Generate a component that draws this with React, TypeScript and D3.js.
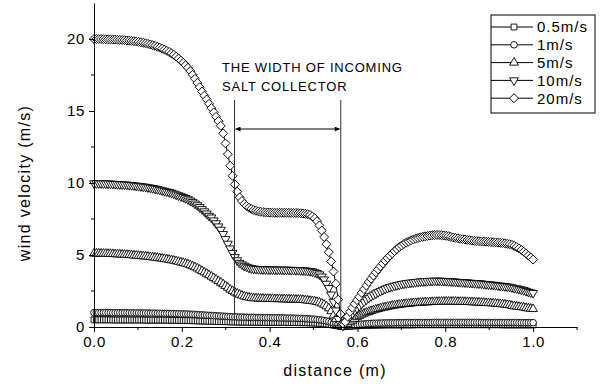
import React, { useRef, useEffect } from 'react';
import * as d3 from 'd3';

// wind velocity (m/s); the points are evenly spaced
// in distance from 0 to 1 m (188 points per series)
const speed05 = [
  0.5, 0.5, 0.5, 0.5, 0.5, 0.5, 0.5, 0.5, 0.49, 0.49,
  0.49, 0.49, 0.49, 0.49, 0.49, 0.49, 0.49, 0.49, 0.49, 0.49,
  0.49, 0.49, 0.48, 0.48, 0.48, 0.48, 0.48, 0.48, 0.48, 0.48,
  0.48, 0.48, 0.47, 0.47, 0.47, 0.46, 0.46, 0.46, 0.45, 0.45,
  0.45, 0.44, 0.44, 0.43, 0.43, 0.42, 0.42, 0.41, 0.41, 0.4,
  0.4, 0.39, 0.39, 0.38, 0.38, 0.37, 0.37, 0.36, 0.36, 0.35,
  0.35, 0.35, 0.34, 0.34, 0.34, 0.34, 0.33, 0.33, 0.33, 0.33,
  0.33, 0.33, 0.32, 0.32, 0.32, 0.32, 0.32, 0.32, 0.32, 0.32,
  0.32, 0.32, 0.32, 0.31, 0.31, 0.31, 0.31, 0.31, 0.3, 0.3,
  0.3, 0.29, 0.29, 0.28, 0.28, 0.27, 0.26, 0.25, 0.23, 0.21,
  0.19, 0.16, 0.13, 0.1, 0.07, 0.04, 0.02,
  0.03, 0.04, 0.05,
  0.07, 0.08, 0.09, 0.1, 0.1, 0.11, 0.12, 0.12,
  0.13, 0.13, 0.13, 0.14, 0.14, 0.14, 0.15, 0.15, 0.15,
  0.15, 0.15, 0.15, 0.15, 0.15, 0.15, 0.15, 0.15,
  0.15, 0.15, 0.16, 0.16, 0.16, 0.16, 0.16, 0.16, 0.16,
  0.16, 0.16, 0.16, 0.16, 0.16, 0.16, 0.16, 0.16, 0.16,
  0.16, 0.16, 0.16, 0.16, 0.16, 0.16, 0.16, 0.16,
  0.16, 0.16, 0.16, 0.16, 0.16, 0.16, 0.16, 0.16, 0.16,
  0.16, 0.16, 0.16, 0.16, 0.15, 0.15, 0.15, 0.15,
  0.15, 0.15, 0.15, 0.15, 0.15, 0.15, 0.15, 0.15, 0.15,
  0.15
];

const speed1 = [
  1.0, 1.0, 1.0, 1.0, 1.0, 1.0, 1.0, 1.0, 0.99, 0.99,
  0.99, 0.99, 0.99, 0.99, 0.99, 0.98, 0.98, 0.98, 0.98, 0.98,
  0.97, 0.97, 0.97, 0.97, 0.96, 0.96, 0.96, 0.95, 0.95, 0.95,
  0.94, 0.94, 0.94, 0.93, 0.93, 0.92, 0.92, 0.91, 0.91, 0.9,
  0.9, 0.89, 0.88, 0.87, 0.86, 0.85, 0.84, 0.83, 0.82, 0.81,
  0.8, 0.79, 0.78, 0.77, 0.76, 0.75, 0.74, 0.73, 0.72, 0.71,
  0.7, 0.7, 0.69, 0.69, 0.68, 0.68, 0.67, 0.67, 0.67, 0.66,
  0.66, 0.66, 0.65, 0.65, 0.65, 0.65, 0.64, 0.64, 0.64, 0.63,
  0.63, 0.63, 0.62, 0.62, 0.62, 0.61, 0.61, 0.6, 0.6, 0.59,
  0.58, 0.57, 0.56, 0.55, 0.54, 0.52, 0.5, 0.48, 0.45, 0.42,
  0.38, 0.33, 0.27, 0.21, 0.15, 0.08, 0.03,
  0.05, 0.07, 0.09,
  0.13, 0.15, 0.16, 0.18, 0.2, 0.21, 0.23, 0.24,
  0.25, 0.26, 0.26, 0.27, 0.27, 0.28, 0.28, 0.29, 0.29,
  0.29, 0.29, 0.3, 0.3, 0.3, 0.3, 0.31, 0.31,
  0.31, 0.31, 0.31, 0.31, 0.31, 0.31, 0.31, 0.31, 0.31,
  0.31, 0.32, 0.32, 0.32, 0.32, 0.32, 0.32, 0.32, 0.32,
  0.32, 0.32, 0.32, 0.32, 0.32, 0.32, 0.32, 0.32,
  0.32, 0.32, 0.32, 0.32, 0.31, 0.31, 0.31, 0.31, 0.31,
  0.31, 0.31, 0.31, 0.31, 0.31, 0.31, 0.31, 0.31,
  0.31, 0.31, 0.31, 0.3, 0.3, 0.3, 0.3, 0.3, 0.3,
  0.3
];

const speed5 = [
  5.1, 5.1, 5.1, 5.1, 5.09, 5.09, 5.08, 5.08, 5.07, 5.06,
  5.05, 5.04, 5.03, 5.02, 5.01, 5.0, 4.99, 4.97, 4.96, 4.94,
  4.93, 4.91, 4.9, 4.88, 4.86, 4.84, 4.82, 4.8, 4.77, 4.75,
  4.73, 4.7, 4.67, 4.64, 4.61, 4.57, 4.53, 4.49, 4.45, 4.4,
  4.35, 4.29, 4.22, 4.15, 4.07, 3.98, 3.89, 3.8, 3.7, 3.6,
  3.5, 3.4, 3.3, 3.19, 3.08, 2.97, 2.85, 2.73, 2.6, 2.5,
  2.4, 2.32, 2.25, 2.18, 2.12, 2.08, 2.05, 2.02, 2.0, 1.99,
  1.98, 1.97, 1.97, 1.96, 1.96, 1.95, 1.95, 1.94, 1.94, 1.94,
  1.93, 1.93, 1.92, 1.92, 1.91, 1.91, 1.9, 1.9, 1.89, 1.88,
  1.86, 1.84, 1.82, 1.8, 1.78, 1.74, 1.7, 1.63, 1.55, 1.44,
  1.3, 1.1, 0.8, 0.55, 0.3, 0.1, 0.05,
  0.12, 0.22, 0.34, 0.46, 0.57, 0.69, 0.78, 0.86, 0.93, 1.0,
  1.05, 1.11, 1.16, 1.21, 1.25, 1.3, 1.34, 1.37, 1.41, 1.44,
  1.48, 1.5, 1.52, 1.55, 1.57, 1.59, 1.61, 1.62, 1.64, 1.66,
  1.67, 1.68, 1.69, 1.7, 1.72, 1.72, 1.73, 1.74, 1.74, 1.75,
  1.75, 1.76, 1.76, 1.76, 1.76, 1.76, 1.76, 1.76, 1.75, 1.75,
  1.75, 1.74, 1.74, 1.73, 1.72, 1.72, 1.71, 1.7, 1.69, 1.68,
  1.67, 1.66, 1.65, 1.64, 1.63, 1.61, 1.59, 1.58, 1.56, 1.54,
  1.52, 1.47, 1.44, 1.42, 1.4, 1.38, 1.36, 1.32, 1.29, 1.27,
  1.25
];

const speed10 = [
  9.98, 9.98, 9.98, 9.97, 9.97, 9.96, 9.96, 9.95, 9.94, 9.93,
  9.92, 9.91, 9.9, 9.89, 9.88, 9.86, 9.85, 9.83, 9.81, 9.79,
  9.77, 9.75, 9.73, 9.7, 9.67, 9.64, 9.61, 9.57, 9.53, 9.49,
  9.45, 9.41, 9.37, 9.32, 9.26, 9.2, 9.14, 9.08, 9.02, 8.95,
  8.87, 8.78, 8.68, 8.57, 8.45, 8.32, 8.18, 8.03, 7.88, 7.72,
  7.6, 7.4, 7.2, 6.98, 6.75, 6.45, 6.1, 5.78, 5.45, 5.14,
  4.85, 4.63, 4.45, 4.34, 4.25, 4.18, 4.12, 4.08, 4.05, 4.03,
  4.02, 4.01, 4.0, 4.0, 3.99, 3.99, 3.99, 3.98, 3.98, 3.98,
  3.98, 3.97, 3.97, 3.97, 3.96, 3.96, 3.95, 3.95, 3.94, 3.93,
  3.92, 3.9, 3.88, 3.85, 3.8, 3.74, 3.65, 3.5, 3.3, 3.0,
  2.7, 2.25, 1.75, 1.15, 0.55, 0.2, 0.1,
  0.26, 0.49, 0.73, 0.94, 1.13, 1.31, 1.47, 1.62, 1.76, 1.9,
  2.02, 2.14, 2.24, 2.33, 2.42, 2.5, 2.58, 2.65, 2.71, 2.77,
  2.81, 2.86, 2.9, 2.94, 2.98, 3.01, 3.04, 3.06, 3.08, 3.1,
  3.12, 3.14, 3.15, 3.16, 3.18, 3.19, 3.2, 3.2, 3.21, 3.21,
  3.21, 3.2, 3.2, 3.19, 3.18, 3.17, 3.16, 3.14, 3.13, 3.12,
  3.11, 3.1, 3.09, 3.07, 3.06, 3.05, 3.04, 3.03, 3.02, 2.99,
  2.97, 2.96, 2.94, 2.93, 2.91, 2.88, 2.87, 2.85, 2.83, 2.81,
  2.79, 2.75, 2.71, 2.68, 2.64, 2.6, 2.56, 2.5, 2.44, 2.4,
  2.36
];

const speed20 = [
  20.0, 20.0, 20.0, 20.0, 19.99, 19.98, 19.98, 19.97, 19.96, 19.96,
  19.95, 19.94, 19.93, 19.92, 19.9, 19.89, 19.87, 19.85, 19.83, 19.8,
  19.77, 19.74, 19.7, 19.66, 19.62, 19.57, 19.52, 19.46, 19.4, 19.33,
  19.26, 19.18, 19.1, 19.0, 18.9, 18.78, 18.65, 18.5, 18.35, 18.18,
  18.0, 17.78, 17.52, 17.24, 16.95, 16.65, 16.35, 16.07, 15.8, 15.5,
  15.2, 14.9, 14.6, 14.3, 13.97, 13.45, 12.75, 12.0, 11.2, 10.5,
  9.9, 9.4, 9.0, 8.75, 8.55, 8.4, 8.28, 8.2, 8.12, 8.07,
  8.03, 8.0, 7.98, 7.96, 7.95, 7.94, 7.94, 7.93, 7.93, 7.93,
  7.93, 7.93, 7.93, 7.93, 7.92, 7.92, 7.92, 7.91, 7.9, 7.88,
  7.86, 7.83, 7.78, 7.68, 7.55, 7.35, 7.05, 6.7, 6.25, 5.75,
  5.2, 4.55, 3.85, 3.0, 1.9, 0.9, 0.25,
  0.35, 0.72, 1.05, 1.34, 1.61, 1.87, 2.1, 2.37, 2.63, 2.88,
  3.12, 3.35, 3.57, 3.79, 4.0, 4.21, 4.41, 4.6, 4.78, 4.95,
  5.11, 5.27, 5.41, 5.55, 5.66, 5.77, 5.86, 5.94, 6.02, 6.08,
  6.14, 6.18, 6.23, 6.27, 6.3, 6.32, 6.35, 6.37, 6.38, 6.39,
  6.39, 6.37, 6.36, 6.33, 6.3, 6.26, 6.22, 6.19, 6.16, 6.12,
  6.1, 6.08, 6.05, 6.03, 6.0, 5.98, 5.97, 5.96, 5.94, 5.93,
  5.92, 5.91, 5.9, 5.89, 5.88, 5.86, 5.85, 5.83, 5.81, 5.78,
  5.75, 5.7, 5.63, 5.55, 5.46, 5.35, 5.23, 5.1, 4.96, 4.83,
  4.68
];

const seriesNames = ['0.5m/s', '1m/s', '5m/s', '10m/s', '20m/s'];
const seriesValues = [speed05, speed1, speed5, speed10, speed20];

const xTickValues = [0, 0.2, 0.4, 0.6, 0.8, 1.0];
const xMinorTicks = [0.1, 0.3, 0.5, 0.7, 0.9, 1.1];
const yTickValues = [0, 5, 10, 15, 20];
const yMinorTicks = [2.5, 7.5, 12.5, 17.5];

const collectorFrom = 0.32;
const collectorTo = 0.562;
const noteLines = ['THE WIDTH OF INCOMING', 'SALT COLLECTOR'];

const FONT = "Arial, 'Liberation Sans', sans-serif";

const App = () => {
  const svgRef = useRef(null);

  useEffect(() => {
    const width = 615;
    const height = 384;

    const svg = d3.select(svgRef.current);
    svg.selectAll('*').remove();

    const x = d3.scaleLinear().domain([0, 1.1]).range([94, 577]);
    const y = d3.scaleLinear().domain([0, 22.5]).range([327, 3]);

    // marker shapes per series
    const symbols = [
      { type: d3.symbolSquare, size: 34, rotate: 0 },
      { type: d3.symbolCircle, size: 34, rotate: 0 },
      { type: d3.symbolTriangle, size: 34, rotate: 0 },
      { type: d3.symbolTriangle, size: 34, rotate: 180 },
      { type: d3.symbolSquare, size: 40, rotate: 45 },
    ];

    const line = d3.line().x(d => x(d[0])).y(d => y(d[1]));

    seriesValues.forEach((vals, si) => {
      const n = vals.length - 1;
      const pts = vals.map((v, i) => [i / n, v]);
      const g = svg.append('g');
      g.append('path')
        .attr('d', line(pts))
        .attr('fill', 'none')
        .attr('stroke', '#000')
        .attr('stroke-width', 1);
      const sym = symbols[si];
      g.selectAll('path.mk')
        .data(pts)
        .enter().append('path')
        .attr('class', 'mk')
        .attr('d', d3.symbol().type(sym.type).size(sym.size)())
        .attr('transform', d => `translate(${x(d[0])},${y(d[1])}) rotate(${sym.rotate})`)
        .attr('fill', '#fff')
        .attr('stroke', '#000')
        .attr('stroke-width', 0.9);
    });

    // axes
    const xAxis = svg.append('g')
      .attr('transform', `translate(0,${y(0)})`)
      .call(d3.axisBottom(x).tickValues(xTickValues).tickFormat(d3.format('.1f')).tickSizeInner(5).tickSizeOuter(0).tickPadding(4));
    xAxis.selectAll('line.minor')
      .data(xMinorTicks)
      .enter().append('line')
      .attr('x1', d => x(d)).attr('x2', d => x(d))
      .attr('y1', 0).attr('y2', 3)
      .attr('stroke', '#000');

    const yAxis = svg.append('g')
      .attr('transform', `translate(${x(0)},0)`)
      .call(d3.axisLeft(y).tickValues(yTickValues).tickSizeInner(5).tickSizeOuter(0).tickPadding(4));
    yAxis.selectAll('line.minor')
      .data(yMinorTicks)
      .enter().append('line')
      .attr('x1', 0).attr('x2', -3)
      .attr('y1', d => y(d)).attr('y2', d => y(d))
      .attr('stroke', '#000');

    [xAxis, yAxis].forEach(a => {
      a.select('.domain').attr('stroke', '#000').attr('stroke-width', 1);
      a.selectAll('text').attr('font-family', FONT).attr('font-size', 15)
        .attr('letter-spacing', 0.6).attr('fill', '#000');
    });

    // axis titles
    svg.append('text')
      .attr('x', 335).attr('y', 376)
      .attr('text-anchor', 'middle')
      .attr('font-family', FONT).attr('font-size', 16)
      .attr('letter-spacing', 1.3)
      .text('distance (m)');

    svg.append('text')
      .attr('transform', 'translate(30,183) rotate(-90)')
      .attr('text-anchor', 'middle')
      .attr('font-family', FONT).attr('font-size', 16)
      .attr('letter-spacing', 1.3)
      .text('wind velocity (m/s)');

    // salt collector annotation
    const defs = svg.append('defs');
    defs.append('marker')
      .attr('id', 'arrowHead')
      .attr('viewBox', '0 0 10 10')
      .attr('refX', 10).attr('refY', 5)
      .attr('markerWidth', 9).attr('markerHeight', 5)
      .attr('orient', 'auto-start-reverse')
      .attr('markerUnits', 'userSpaceOnUse')
      .append('path')
      .attr('d', 'M0,0 L10,5 L0,10 Z')
      .attr('fill', '#000');

    [collectorFrom, collectorTo].forEach(c => {
      svg.append('line')
        .attr('x1', x(c)).attr('x2', x(c))
        .attr('y1', 100).attr('y2', 324)
        .attr('stroke', '#333').attr('stroke-width', 1);
    });
    svg.append('line')
      .attr('x1', x(collectorFrom) + 1).attr('x2', x(collectorTo) - 1)
      .attr('y1', 129).attr('y2', 129)
      .attr('stroke', '#000').attr('stroke-width', 1)
      .attr('marker-start', 'url(#arrowHead)')
      .attr('marker-end', 'url(#arrowHead)');

    noteLines.forEach((t, i) => {
      svg.append('text')
        .attr('x', 222).attr('y', 72 + i * 19)
        .attr('font-family', FONT).attr('font-size', 13)
        .attr('letter-spacing', 0.8)
        .text(t);
    });

    // legend
    const legend = svg.append('g').attr('transform', 'translate(491,15)');
    legend.append('rect')
      .attr('x', 0).attr('y', 0)
      .attr('width', 104).attr('height', 98)
      .attr('fill', '#fff')
      .attr('stroke', '#000').attr('stroke-width', 1);

    seriesNames.forEach((name, i) => {
      const ly = 12 + i * 17.8;
      const sym = symbols[i];
      legend.append('line')
        .attr('x1', 0).attr('x2', 42)
        .attr('y1', ly).attr('y2', ly)
        .attr('stroke', '#000');
      legend.append('path')
        .attr('d', d3.symbol().type(sym.type).size(sym.size)())
        .attr('transform', `translate(23,${ly}) rotate(${sym.rotate})`)
        .attr('fill', '#fff')
        .attr('stroke', '#000')
        .attr('stroke-width', 0.9);
      legend.append('text')
        .attr('x', 46).attr('y', ly)
        .attr('dy', '0.36em')
        .attr('font-family', FONT).attr('font-size', 15)
        .attr('letter-spacing', 1)
        .text(name);
    });

    svg.attr('width', width).attr('height', height);
  }, []);

  return (
    <svg ref={svgRef} width={615} height={384} style={{ position: 'absolute', left: 0, top: 0, background: '#fff' }}></svg>
  );
};

export default App;
